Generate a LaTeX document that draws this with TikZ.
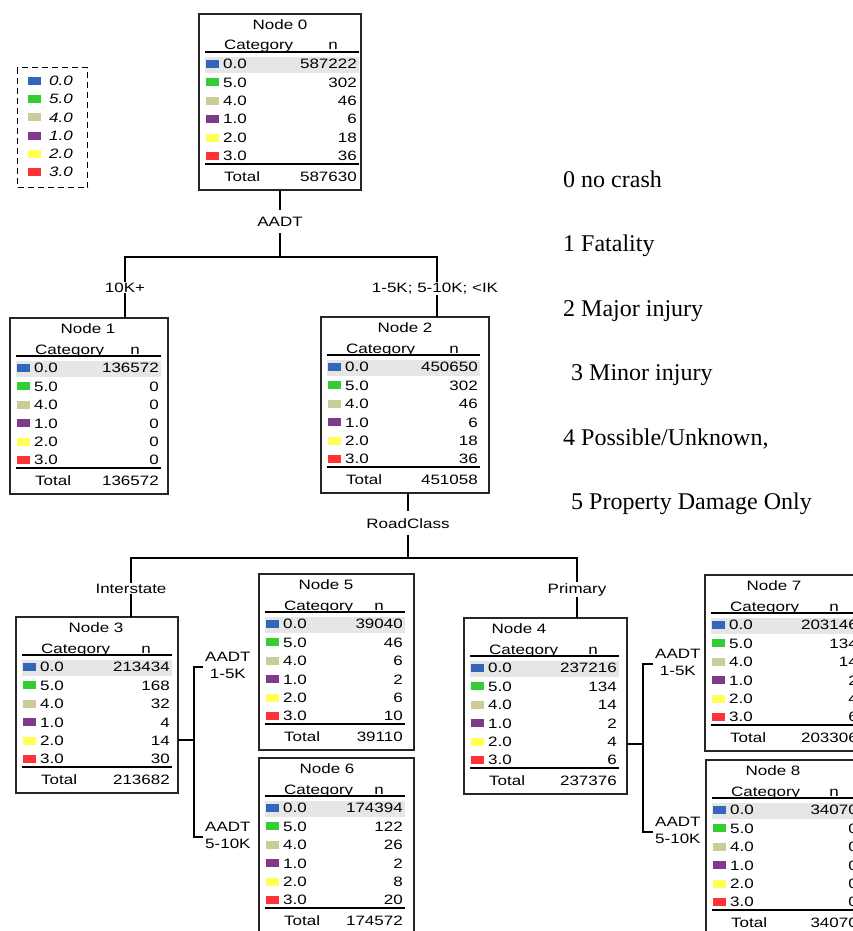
\documentclass[tikz,border=0pt]{standalone}
\usepackage{fontspec}
\setmainfont{Liberation Serif}
\newfontfamily\spssfont[FakeStretch=1.25]{Liberation Sans}
\usetikzlibrary{calc}

\definecolor{cblue}{HTML}{3366BB}
\definecolor{cgreen}{HTML}{33CC33}
\definecolor{ckhaki}{HTML}{CCCC99}
\definecolor{cpurple}{HTML}{7F3A8C}
\definecolor{cyellow}{HTML}{FFFF55}
\definecolor{cred}{HTML}{FF3333}
\definecolor{cband}{HTML}{E6E6E6}

\tikzset{
  x=1pt, y=-1pt,
  tbox/.style={draw=black!85, line width=1.2pt, inner sep=0pt, outer sep=0pt},
  hline/.style={draw=black, line width=1.3pt},
  conn/.style={draw=black, line width=1.2pt},
  txt/.style={inner sep=0pt, font=\spssfont\fontsize{13.6}{15}\selectfont},
  splitlab/.style={fill=white, inner xsep=0pt, inner ysep=7pt, anchor=base, font=\spssfont\fontsize{13.6}{15}\selectfont},
  branchlab/.style={fill=white, inner sep=0.8pt, anchor=base, font=\spssfont\fontsize{13.6}{15}\selectfont},
  sidelab/.style={inner sep=0pt, align=center, anchor=west, font=\spssfont\fontsize{13.6}{17}\selectfont},
  rlab/.style={inner sep=0pt, anchor=base west, font=\fontsize{24}{28}\selectfont},
}

\def\boxh{176}
\def\TRowsInner#1#2#3/#4/#5/#6/#7/#8\relax{%
  \foreach \lab/\col/\v [count=\i from 0] in {0.0/cblue/#3,5.0/cgreen/#4,4.0/ckhaki/#5,1.0/cpurple/#6,2.0/cyellow/#7,3.0/cred/#8}{%
    \pgfmathsetmacro\ry{50+18.4*\i}%
    \fill[fill=\col] ([shift={(7,\ry-4)}]#1.north west) rectangle ([shift={(19.5,\ry+4)}]#1.north west);
    \node[txt, anchor=base west] at ([shift={(24,\ry+4.8)}]#1.north west) {\lab};
    \node[txt, anchor=base east] at ([shift={(-#2,\ry+4.8)}]#1.north east) {\v};
  }}
% name, x, y, width, right margin, title x offset, title, values, total
\newcommand\TBox[9]{%
  \node[tbox, minimum width=#4pt, minimum height=\boxh pt, anchor=north west] (#1) at (#2,#3) {};
  \fill[cband] ([shift={(6,43)}]#1.north west) rectangle ([shift={(-#5+2,59)}]#1.north east);
  \draw[hline] ([shift={(6,38)}]#1.north west) -- ([shift={(-#5+2,38)}]#1.north east);
  \draw[hline] ([shift={(6,150)}]#1.north west) -- ([shift={(-#5+2,150)}]#1.north east);
  \node[txt, anchor=base] at ([shift={(#6,15.5)}]#1.north west) {#7};
  \node[txt, anchor=base west] at ([shift={(25,36)}]#1.north west) {Category};
  \node[txt, anchor=base] at ([shift={(-#5-24,36)}]#1.north east) {n};
  \node[txt, anchor=base west] at ([shift={(25,167.5)}]#1.north west) {Total};
  \node[txt, anchor=base east] at ([shift={(-#5,167.5)}]#1.north east) {#9};
  \TRowsInner{#1}{#5}#8\relax
}

\begin{document}
\begin{tikzpicture}
\useasboundingbox (0,0) rectangle (853,931);
\clip (0,0) rectangle (853,931);

% legend box
\node[draw=black, dash pattern=on 6pt off 4pt, line width=1.2pt, minimum width=70pt, minimum height=120pt, inner sep=0pt, anchor=north west] (legend) at (17,67) {};
\foreach \lab/\col [count=\i from 0] in {0.0/cblue,5.0/cgreen,4.0/ckhaki,1.0/cpurple,2.0/cyellow,3.0/cred}{%
  \pgfmathsetmacro\ry{81+18.2*\i}%
  \fill[fill=\col] (28,\ry-4) rectangle (40.5,\ry+4);
  \node[txt, anchor=base west, font=\spssfont\itshape\fontsize{13.6}{15}\selectfont] at (49,\ry+4.8) {\lab};
}

% tree nodes
\TBox{n0}{199}{14}{162}{4}{81}{Node 0}{587222/302/46/6/18/36}{587630}
\TBox{n1}{10}{318}{158}{9}{78}{Node 1}{136572/0/0/0/0/0}{136572}
\TBox{n2}{321}{317}{168}{11}{84}{Node 2}{450650/302/46/6/18/36}{451058}
\TBox{n3}{16}{617}{162}{8}{80}{Node 3}{213434/168/32/4/14/30}{213682}
\TBox{n4}{464}{618}{163}{10}{55}{Node 4}{237216/134/14/2/4/6}{237376}
\TBox{n5}{259}{574}{155}{11}{67}{Node 5}{39040/46/6/2/6/10}{39110}
\TBox{n7}{705}{575}{163}{10}{69}{Node 7}{203146/134/14/2/4/6}{203306}
\TBox{n6}{259}{758}{155}{11}{68}{Node 6}{174394/122/26/2/8/20}{174572}
\TBox{n8}{706}{760}{162}{10}{67}{Node 8}{34070/0/0/0/0/0}{34070}

% connectors
\coordinate (j0) at (280,257);
\draw[conn] (n0.south) -- (j0);
\draw[conn] (j0) -| ([xshift=115pt]n1.north west);
\draw[conn] (j0) -| ([xshift=116pt]n2.north west);

\coordinate (j2) at (408,558);
\draw[conn] ([xshift=87pt]n2.south west) -- (j2);
\draw[conn] (j2) -| ([xshift=115pt]n3.north west);
\draw[conn] (j2) -| ([xshift=113pt]n4.north west);

\coordinate (k3) at (194,740);
\coordinate (s3a) at (203,667);
\coordinate (s3b) at (203,837);
\draw[conn] ([shift={(0,123)}]n3.north east) -- (k3);
\draw[conn] (s3a) -| (k3);
\draw[conn] (s3b) -| (k3);

\coordinate (k4) at (643,744);
\coordinate (s4a) at (653,664);
\coordinate (s4b) at (653,832);
\draw[conn] ([shift={(0,126)}]n4.north east) -- (k4);
\draw[conn] (s4a) -| (k4);
\draw[conn] (s4b) -| (k4);

% split and branch labels
\node[splitlab] (sp0) at (280,226) {AADT};
\node[branchlab] (br1) at (125,292.5) {10K+};
\node[branchlab] (br2) at (435,292.5) {1-5K; 5-10K; <IK};
\node[splitlab] (sp2) at (408,528) {RoadClass};
\node[branchlab] (br3) at (131,593) {Interstate};
\node[branchlab] (br4) at (577,593) {Primary};
\node[sidelab] (br5) at ([shift={(2,-1.5)}]s3a) {AADT\\1-5K};
\node[sidelab] (br6) at ([shift={(2,-1.5)}]s3b) {AADT\\5-10K};
\node[sidelab] (br7) at ([shift={(2,-1.5)}]s4a) {AADT\\1-5K};
\node[sidelab] (br8) at ([shift={(2,-1.5)}]s4b) {AADT\\5-10K};

% right legend
\node[rlab] (d0) at (563,187) {0 no crash};
\node[rlab] (d1) at (563,251.5) {1 Fatality};
\node[rlab] (d2) at (563,316) {2 Major injury};
\node[rlab] (d3) at (571,380.5) {3 Minor injury};
\node[rlab] (d4) at (563,445) {4 Possible/Unknown,};
\node[rlab] (d5) at (571,509.5) {5 Property Damage Only};
\end{tikzpicture}
\end{document}
